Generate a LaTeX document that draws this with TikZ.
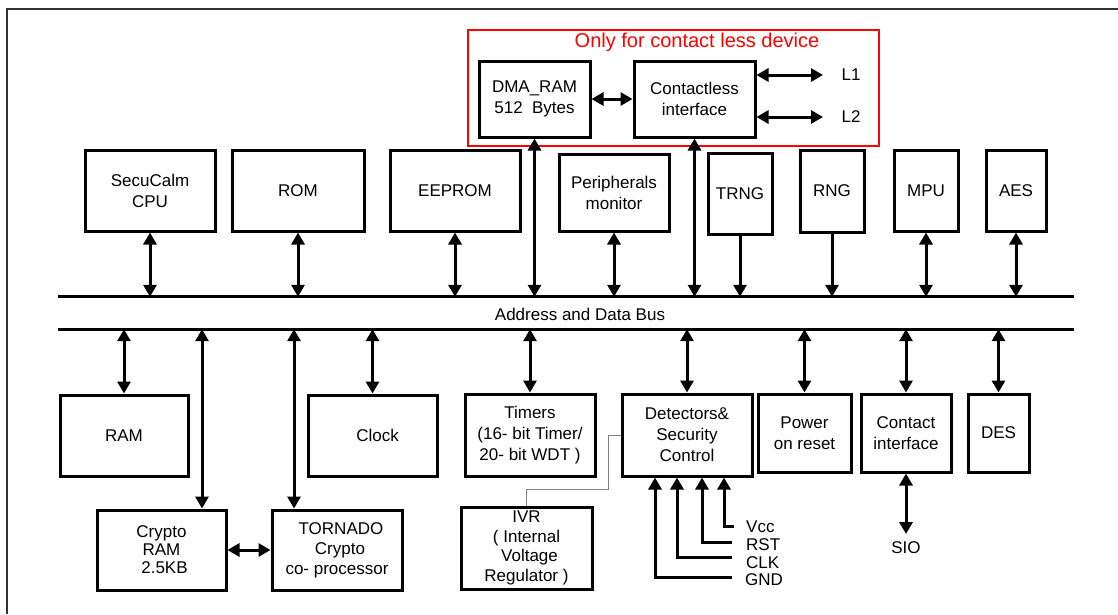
\documentclass[tikz,border=0pt]{standalone}
\usepackage{fontspec}
\setmainfont{Liberation Sans}
\usetikzlibrary{arrows.meta}
\begin{document}
\begin{tikzpicture}[x=1pt,y=-1pt,
  >={Triangle[length=12pt,width=13pt]},
  blk/.style={draw, line width=3pt, inner sep=0pt, align=center, font=\fontsize{17}{21}\selectfont},
  conn/.style={line width=3pt},
  busline/.style={line width=3pt},
  lab/.style={inner sep=0pt, font=\fontsize{17}{21}\selectfont},
  thinlink/.style={draw=gray, line width=1pt}
]
\useasboundingbox (0,0) rectangle (1118,614);
% outer frame
\draw[line width=2pt, black!80] (7,614) -- (7,9) -- (1118,9);

% contactless region
\node[draw=red, line width=2pt, minimum width=411pt, minimum height=116pt, inner sep=0pt] (redbox) at (673.5,88) {};
\node[text=red, inner sep=0pt, font=\fontsize{20}{24}\selectfont] (title) at (697,42) {Only for contact less device};
\node[blk, minimum width=111pt, minimum height=76pt] (dma) at (534.5,99) {DMA\_RAM\\512\hspace{0.55em}Bytes};
\node[blk, minimum width=121pt, minimum height=76pt] (cless) at (694.5,99) {Contactless\\interface};
\node[lab] (l1) at (851,75) {L1};
\node[lab] (l2) at (851,117) {L2};
\coordinate (l1end) at (823,75);
\coordinate (l2end) at (823,117);
\draw[conn,<->] (dma.east) -- (cless.west);
\draw[conn,<->] (cless.east |- l1end) -- (l1end);
\draw[conn,<->] (cless.east |- l2end) -- (l2end);

% top row
\node[blk, minimum width=130pt, minimum height=81pt] (cpu) at (150,190.5) {SecuCalm\\CPU};
\node[blk, minimum width=132pt, minimum height=81pt] (rom) at (298,190.5) {ROM};
\node[blk, minimum width=130pt, minimum height=81pt] (eeprom) at (455,190.5) {EEPROM};
\node[blk, minimum width=110pt, minimum height=77pt] (periph) at (614,192.5) {Peripherals\\monitor};
\node[blk, minimum width=64pt, minimum height=81pt] (trng) at (740,193.5) {TRNG};
\node[blk, minimum width=64pt, minimum height=82pt] (rng) at (832,191) {RNG};
\node[blk, minimum width=64pt, minimum height=81pt] (mpu) at (926,190.5) {MPU};
\node[blk, minimum width=60pt, minimum height=81pt] (aes) at (1016,190.5) {AES};

% bus
\node[minimum width=1016pt, minimum height=32pt, inner sep=0pt] (bus) at (566,313) {};
\node[lab] (buslabel) at (580,314) {Address and Data Bus};
\draw[busline] (bus.north west) -- (bus.north east);
\draw[busline] (bus.south west) -- (bus.south east);

\draw[conn,<->] (cpu.south) -- (cpu.south |- bus.north);
\draw[conn,<->] (rom.south) -- (rom.south |- bus.north);
\draw[conn,<->] (eeprom.south) -- (eeprom.south |- bus.north);
\draw[conn,<->, line width=3.5pt] (dma.south) -- (dma.south |- bus.north);
\draw[conn,<->] (periph.south) -- (periph.south |- bus.north);
\draw[conn,<->] (cless.south) -- (cless.south |- bus.north);
\draw[conn,->] (trng.south) -- (trng.south |- bus.north);
\draw[conn,->] (rng.south) -- (rng.south |- bus.north);
\draw[conn,<->] (mpu.south) -- (mpu.south |- bus.north);
\draw[conn,<->] (aes.south) -- (aes.south |- bus.north);

% bottom row
\node[blk, minimum width=128pt, minimum height=81pt] (ram) at (124,435.5) {RAM};
\node[blk, minimum width=129pt, minimum height=81pt] (clock) at (372.5,435.5) {\hspace{10pt}Clock};
\node[blk, minimum width=130pt, minimum height=82pt] (timers) at (530,435) {Timers\\(16- bit Timer/\\20- bit WDT )};
\node[blk, minimum width=130pt, minimum height=82pt] (det) at (687,435) {Detectors\&\\Security\\Control};
\node[blk, minimum width=93pt, minimum height=78pt] (por) at (804.5,433) {Power\\on reset};
\node[blk, minimum width=90pt, minimum height=78pt] (cif) at (906,433) {Contact\\interface};
\node[blk, minimum width=61pt, minimum height=78pt] (des) at (998.5,433) {DES};
\node[blk, minimum width=129pt, minimum height=80pt, font=\fontsize{17}{18}\selectfont] (cram) at (161.5,550) {Crypto\\RAM\\\hspace{6pt}2.5KB};
\node[blk, minimum width=130pt, minimum height=80pt, font=\fontsize{17}{20}\selectfont] (tornado) at (337,550) {\hspace{8pt}TORNADO\\\hspace{6pt}Crypto\\co- processor};
\node[blk, minimum width=131pt, minimum height=82pt, font=\fontsize{17}{19.5}\selectfont] (ivr) at (526.5,548) {IVR\\( Internal\\\hspace{6pt}Voltage\\Regulator )};

\coordinate (cramtop) at ([xshift=40.5pt]cram.north);
\coordinate (tornadotop) at ([xshift=-43pt]tornado.north);
\draw[conn,<->] (ram.north) -- (ram.north |- bus.south);
\draw[conn,<->] (cramtop) -- (cramtop |- bus.south);
\draw[conn,<->] (tornadotop) -- (tornadotop |- bus.south);
\draw[conn,<->] (clock.north) -- (clock.north |- bus.south);
\draw[conn,<->] (timers.north) -- (timers.north |- bus.south);
\draw[conn,<->] (det.north) -- (det.north |- bus.south);
\draw[conn,<->] (por.north) -- (por.north |- bus.south);
\draw[conn,<->] (cif.north) -- (cif.north |- bus.south);
\draw[conn,<->] (des.north) -- (des.north |- bus.south);
\draw[conn,<->] (cram.east) -- (tornado.west);

% IVR link
\draw[thinlink] (ivr.north) -- ++(0,-16) -| (608,435) -- (det.west);

% detector inputs
\node[lab, anchor=west] (vcc) at (746,527) {Vcc};
\node[lab, anchor=west] (rst) at (746,545) {RST};
\node[lab, anchor=west] (clk) at (746,563) {CLK};
\node[lab, anchor=west] (gnd) at (745,580) {GND};
\coordinate (vccend) at (734,526);
\coordinate (rstend) at (732,542);
\coordinate (clkend) at (732,557);
\coordinate (gndend) at (732,577);
\coordinate (vccin) at ([xshift=37pt]det.south);
\coordinate (rstin) at ([xshift=15pt]det.south);
\coordinate (clkin) at ([xshift=-10pt]det.south);
\coordinate (gndin) at ([xshift=-32pt]det.south);
\draw[conn,->] (vccend) -| (vccin);
\draw[conn,->] (rstend) -| (rstin);
\draw[conn,->] (clkend) -| (clkin);
\draw[conn,->] (gndend) -| (gndin);

% SIO
\node[lab] (sio) at (906,548) {SIO};
\coordinate (sioend) at (906,534);
\draw[conn,<->] (cif.south) -- (sioend);
\end{tikzpicture}
\end{document}
